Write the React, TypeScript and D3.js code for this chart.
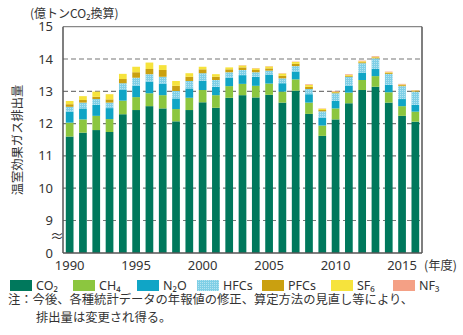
import React from "react";
import * as d3 from "d3";

const years = d3.range(1990, 2017).map(String);
const co2 = [11.60, 11.72, 11.80, 11.74, 12.29, 12.42, 12.54, 12.47, 12.07, 12.42, 12.66, 12.49, 12.80, 12.88, 12.81, 12.89, 12.65, 13.02, 12.30, 11.62, 12.13, 12.63, 13.04, 13.14, 12.65, 12.24, 12.06];
const ch4 = [0.43, 0.41, 0.44, 0.40, 0.42, 0.40, 0.40, 0.41, 0.38, 0.38, 0.38, 0.39, 0.36, 0.35, 0.36, 0.35, 0.34, 0.35, 0.35, 0.32, 0.34, 0.33, 0.31, 0.33, 0.32, 0.30, 0.31];
const n2o = [0.34, 0.34, 0.34, 0.34, 0.33, 0.35, 0.36, 0.35, 0.33, 0.29, 0.29, 0.26, 0.26, 0.27, 0.28, 0.28, 0.26, 0.24, 0.26, 0.24, 0.23, 0.21, 0.23, 0.22, 0.23, 0.22, 0.21];
const hfcs = [0.15, 0.18, 0.18, 0.17, 0.21, 0.25, 0.23, 0.22, 0.23, 0.23, 0.23, 0.21, 0.17, 0.16, 0.14, 0.12, 0.15, 0.17, 0.16, 0.20, 0.24, 0.28, 0.29, 0.33, 0.34, 0.40, 0.41];
const pfcs = [0.08, 0.08, 0.07, 0.10, 0.13, 0.17, 0.16, 0.21, 0.16, 0.13, 0.12, 0.10, 0.09, 0.08, 0.07, 0.07, 0.08, 0.07, 0.07, 0.04, 0.03, 0.03, 0.03, 0.03, 0.03, 0.03, 0.03];
const sf6 = [0.10, 0.12, 0.16, 0.16, 0.16, 0.17, 0.20, 0.15, 0.15, 0.11, 0.08, 0.08, 0.06, 0.06, 0.05, 0.06, 0.07, 0.06, 0.06, 0.04, 0.02, 0.03, 0.03, 0.02, 0.02, 0.02, 0.01];
const nf3 = [0.00, 0.00, 0.00, 0.00, 0.00, 0.00, 0.00, 0.00, 0.00, 0.00, 0.00, 0.00, 0.00, 0.01, 0.01, 0.01, 0.01, 0.01, 0.02, 0.01, 0.02, 0.02, 0.02, 0.02, 0.02, 0.02, 0.01];

const yTicks = [9, 10, 11, 12, 13, 14, 15];
const xTickYears = ["1990", "1995", "2000", "2005", "2010", "2015"];

const series = [
  { key: "CO2", label: "CO₂", values: co2, color: "#00785c" },
  { key: "CH4", label: "CH₄", values: ch4, color: "#8cc63f" },
  { key: "N2O", label: "N₂O", values: n2o, color: "#10a5c6" },
  { key: "HFCs", label: "HFCs", values: hfcs, color: "#86d3e8" },
  { key: "PFCs", label: "PFCs", values: pfcs, color: "#caa010" },
  { key: "SF6", label: "SF₆", values: sf6, color: "#f6e33c" },
  { key: "NF3", label: "NF₃", values: nf3, color: "#f4a085" },
];

const legendX = [10, 73, 137, 197, 262, 331, 393];

const FONT = "'Noto Sans CJK JP', 'Noto Sans', sans-serif";
const LATIN = "'Noto Sans', 'DejaVu Sans', sans-serif";

export default function App() {
  const left = 63, right = 422;
  const yBase = 253;
  const x = d3.scaleBand().domain(years).range([left, right]).paddingInner(0.42).paddingOuter(0.21);
  const y = d3.scaleLinear().domain([9, 15]).range([220.5, 26.7]);

  const table = years.map((yr, i) => {
    const row: any = { year: yr };
    series.forEach((s) => (row[s.key] = s.values[i]));
    return row;
  });
  const stacked = d3.stack().keys(series.map((s) => s.key))(table);

  return (
    <svg width={463} height={335} style={{ position: "absolute", left: 0, top: 0, fontFamily: FONT }}>
      <defs>
        <pattern id="dots" width={2} height={2} patternUnits="userSpaceOnUse">
          <rect width={2} height={2} fill="#7fcfe6" />
          <rect width={1} height={1} fill="#b5e4f1" />
        </pattern>
      </defs>
      <rect x={0} y={0} width={463} height={335} fill="#fff" />
      {/* unit */}
      <text x={30} y={18} fontSize={12} fill="#333">(億トンCO₂換算)</text>
      {/* y title */}
      <text transform="translate(22,140) rotate(-90)" textAnchor="middle" fontSize={12.3} fill="#333">
        温室効果ガス排出量
      </text>
      {/* gridlines */}
      {yTicks.filter((t) => t < 15).map((t) => (
        <line key={t} x1={left} x2={right} y1={y(t)} y2={y(t)} stroke="#777" strokeWidth={1.2} strokeDasharray="5,3" />
      ))}
      <line x1={left} x2={right} y1={y(15)} y2={y(15)} stroke="#888" strokeWidth={1.2} />
      <line x1={right} x2={right} y1={y(15)} y2={yBase} stroke="#555" strokeWidth={1.5} />
      {/* bars */}
      {stacked.map((layer, li) => (
        <g key={layer.key} fill={series[li].key === "HFCs" ? "url(#dots)" : series[li].color}>
          {layer.map((d, i) => {
            const top = y(d[1]);
            const bottom = li === 0 ? yBase : y(d[0]);
            const h = bottom - top;
            if (h <= 0) return null;
            return <rect key={i} x={x(years[i])} y={top} width={x.bandwidth()} height={h} />;
          })}
        </g>
      ))}
      {/* axes */}
      <line x1={left} x2={left} y1={y(15)} y2={yBase} stroke="#555" strokeWidth={1.5} />
      <line x1={left} x2={right} y1={yBase} y2={yBase} stroke="#555" strokeWidth={1.5} />
      {yTicks.map((t) => (
        <text key={t} x={53} y={y(t) + 4.5} textAnchor="end" fontSize={13} fill="#333" fontFamily={LATIN}>{t}</text>
      ))}
      <text x={53} y={yBase + 4.5} textAnchor="end" fontSize={13} fill="#333" fontFamily={LATIN}>0</text>
      <text x={57} y={241} textAnchor="middle" fontSize={14} fill="#333">≈</text>
      {xTickYears.map((t) => (
        <text key={t} x={(x(t) as number) + x.bandwidth() / 2} y={270} textAnchor="middle" fontSize={13} fill="#333" fontFamily={LATIN}>{t}</text>
      ))}
      <text x={424} y={270} fontSize={12.3} fill="#333">(年度)</text>
      {/* legend */}
      {series.map((s, i) => (
        <g key={s.key}>
          <rect x={legendX[i]} y={280} width={22} height={11} fill={s.key === "HFCs" ? "url(#dots)" : s.color} />
          <text x={legendX[i] + 26} y={290} fontSize={12.5} fill="#333" fontFamily={LATIN}>{s.label}</text>
        </g>
      ))}
      {/* note */}
      <text x={8} y={304} fontSize={12.3} fill="#333">注：今後、各種統計データの年報値の修正、算定方法の見直し等により、</text>
      <text x={36} y={322} fontSize={12.3} fill="#333">排出量は変更され得る。</text>
    </svg>
  );
}
